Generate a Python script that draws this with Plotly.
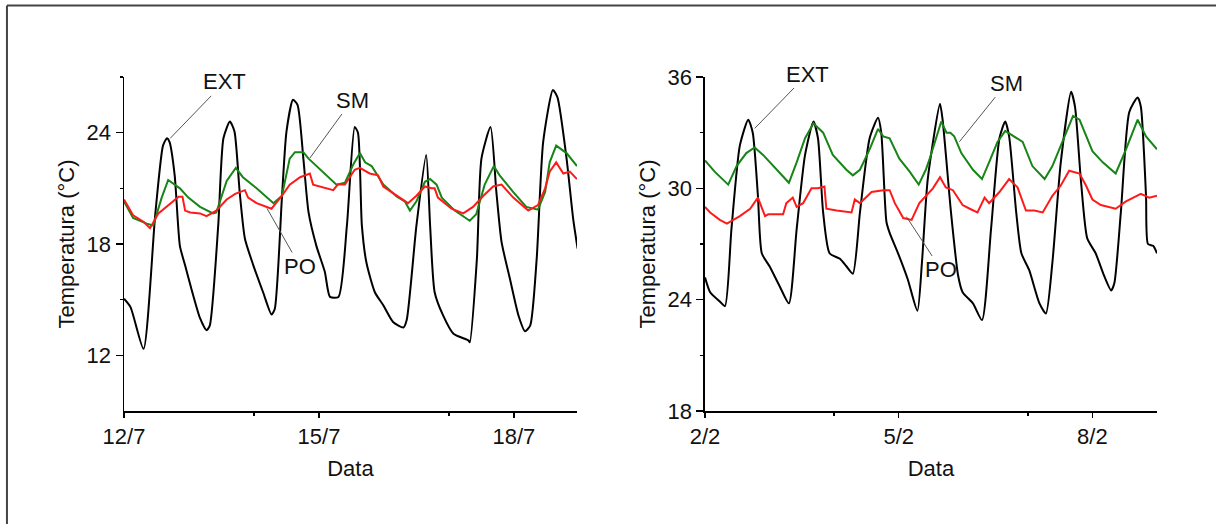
import plotly.graph_objects as go

# ---------------- data (day of month, temperature °C) ----------------
# Left panel: July (12/7 .. 19/7)
ext_jul_day = [12.00, 12.10, 12.30, 12.48, 12.60, 12.66, 12.70, 12.78, 12.86, 12.94, 13.02, 13.17, 13.27, 13.32,
               13.45, 13.53, 13.63, 13.70, 13.78, 13.86, 13.99, 14.14, 14.27, 14.32, 14.43, 14.50, 14.60, 14.67,
               14.76, 14.84, 14.96, 15.09, 15.17, 15.30, 15.43, 15.55, 15.60, 15.66, 15.73, 15.86, 15.99, 16.14,
               16.30, 16.35, 16.50, 16.65, 16.71, 16.78, 16.91, 17.07, 17.30, 17.32, 17.43, 17.50, 17.64, 17.73,
               17.81, 17.94, 18.07, 18.17, 18.25, 18.35, 18.45, 18.60, 18.67, 18.81, 18.91, 18.98]
ext_jul_temp = [15.05, 14.6, 12.35, 19.56, 23.3, 23.7, 23.5, 21.7, 17.9, 16.85, 15.8, 14.0, 13.35, 13.6,
                19.0, 23.7, 24.6, 24.06, 20.8, 18.3, 16.85, 15.4, 14.2, 14.5, 20.5, 24.06, 25.77, 25.5,
                22.6, 19.7, 17.9, 16.5, 15.15, 15.15, 19.0, 24.3, 24.0, 19.0, 17.0, 15.4, 14.7, 13.8,
                13.5, 13.9, 19.0, 22.8, 19.0, 15.4, 14.15, 13.16, 12.8, 12.7, 17.2, 22.6, 24.3, 20.8,
                18.1, 16.1, 14.15, 13.3, 13.6, 17.2, 23.5, 26.3, 25.9, 22.6, 19.4, 17.75]

sm_jul_day = [12.00, 12.14, 12.35, 12.45, 12.58, 12.68, 12.86, 12.99, 13.17, 13.37, 13.42, 13.58, 13.72, 13.83,
              14.04, 14.30, 14.43, 14.55, 14.63, 14.76, 14.84, 15.12, 15.27, 15.40, 15.53, 15.63, 15.71, 15.81,
              15.99, 16.20, 16.32, 16.40, 16.50, 16.63, 16.71, 16.81, 16.89, 17.09, 17.32, 17.42, 17.55, 17.69,
              17.78, 17.99, 18.19, 18.37, 18.48, 18.55, 18.65, 18.81, 18.97]
sm_jul_temp = [20.3, 19.4, 19.1, 19.0, 20.5, 21.45, 21.0, 20.5, 20.0, 19.65, 19.7, 21.4, 22.1, 21.6,
               21.0, 20.2, 20.6, 22.6, 22.95, 22.95, 22.6, 21.7, 21.2, 21.3, 22.3, 22.9, 22.4, 22.2,
               21.2, 20.55, 20.3, 19.8, 20.3, 21.35, 21.5, 21.2, 20.5, 19.8, 19.25, 19.6, 21.2, 22.2,
               21.7, 20.8, 20.0, 19.85, 20.8, 22.4, 23.3, 22.9, 22.2]

po_jul_day = [12.00, 12.14, 12.30, 12.40, 12.53, 12.71, 12.84, 12.90, 12.94, 13.02, 13.17, 13.27, 13.42, 13.58,
              13.71, 13.86, 13.91, 14.04, 14.27, 14.43, 14.55, 14.71, 14.86, 14.91, 15.02, 15.22, 15.29, 15.40,
              15.55, 15.63, 15.78, 15.91, 15.99, 16.20, 16.37, 16.50, 16.63, 16.73, 16.78, 16.83, 17.04, 17.22,
              17.37, 17.53, 17.68, 17.81, 17.99, 18.22, 18.37, 18.48, 18.55, 18.65, 18.76, 18.86, 18.97]
po_jul_temp = [20.4, 19.55, 19.2, 18.85, 19.65, 20.2, 20.55, 20.55, 19.8, 19.7, 19.65, 19.5, 19.8, 20.4,
               20.7, 20.9, 20.5, 20.2, 19.9, 20.6, 21.2, 21.6, 21.8, 21.2, 21.1, 20.9, 21.2, 21.2,
               22.0, 22.1, 21.8, 21.7, 21.1, 20.6, 20.2, 20.6, 21.1, 21.0, 21.0, 20.5, 19.9, 19.65,
               20.0, 20.6, 21.1, 21.2, 20.5, 19.8, 20.1, 21.0, 21.9, 22.4, 21.8, 21.9, 21.5]

# Right panel: February (2/2 .. 9/2)
ext_feb_day = [2.00, 2.08, 2.23, 2.31, 2.41, 2.54, 2.67, 2.74, 2.82, 2.88, 3.00, 3.16, 3.30, 3.42, 3.55, 3.68,
               3.75, 3.83, 3.93, 4.09, 4.19, 4.29, 4.40, 4.55, 4.68, 4.73, 4.81, 4.86, 4.99, 5.14, 5.29, 5.36,
               5.45, 5.64, 5.68, 5.81, 5.92, 5.99, 6.15, 6.29, 6.43, 6.56, 6.65, 6.71, 6.82, 6.90, 7.02, 7.18,
               7.28, 7.38, 7.51, 7.67, 7.73, 7.82, 7.92, 8.05, 8.18, 8.29, 8.34, 8.44, 8.57, 8.70, 8.75, 8.83,
               8.86, 8.94, 9.00]
ext_feb_temp = [25.2, 24.4, 23.9, 23.65, 27.8, 32.3, 33.7, 33.0, 29.6, 26.5, 25.8, 24.7, 23.8, 27.8, 31.8, 33.6,
                32.7, 28.7, 26.5, 26.2, 25.8, 25.4, 28.7, 32.7, 33.8, 33.0, 28.2, 27.6, 26.5, 25.1, 23.4, 26.0,
                30.5, 34.56, 33.7, 28.7, 25.3, 24.4, 23.8, 22.9, 27.8, 32.7, 33.6, 32.8, 28.7, 26.5, 25.6, 23.8,
                23.26, 26.0, 31.4, 35.2, 34.4, 30.5, 27.3, 26.5, 25.3, 24.5, 24.9, 28.7, 34.1, 34.9, 34.4, 29.6,
                27.0, 26.9, 26.5]

sm_feb_day = [2.00, 2.15, 2.36, 2.49, 2.64, 2.77, 2.90, 3.11, 3.30, 3.42, 3.55, 3.68, 3.83, 3.98, 4.19, 4.29,
              4.40, 4.55, 4.68, 4.76, 4.86, 5.01, 5.17, 5.31, 5.42, 5.48, 5.66, 5.74, 5.80, 5.86, 5.97, 6.15,
              6.29, 6.40, 6.53, 6.65, 6.79, 6.92, 7.07, 7.26, 7.38, 7.54, 7.70, 7.80, 8.00, 8.16, 8.36, 8.52,
              8.70, 8.83, 9.00]
sm_feb_temp = [31.5, 30.9, 30.2, 31.2, 31.9, 32.2, 31.8, 31.0, 30.3, 31.4, 32.7, 33.5, 33.0, 31.8, 31.0, 30.7,
               31.0, 32.1, 33.2, 32.8, 32.7, 31.6, 30.9, 30.2, 31.0, 31.6, 33.6, 33.0, 33.0, 32.8, 31.9, 31.0,
               30.5, 31.4, 32.5, 33.1, 32.8, 32.5, 31.2, 30.5, 31.2, 32.5, 33.9, 33.7, 32.0, 31.4, 30.8, 32.1,
               33.7, 32.8, 32.1]

po_feb_day = [2.00, 2.08, 2.23, 2.34, 2.54, 2.70, 2.82, 2.93, 2.98, 3.21, 3.26, 3.36, 3.42, 3.52, 3.65, 3.75,
              3.85, 3.88, 4.04, 4.27, 4.32, 4.40, 4.58, 4.76, 4.86, 4.94, 5.07, 5.20, 5.32, 5.45, 5.53, 5.64,
              5.73, 5.84, 5.99, 6.10, 6.22, 6.33, 6.40, 6.56, 6.71, 6.84, 6.97, 7.10, 7.23, 7.38, 7.51, 7.64,
              7.70, 7.80, 7.90, 8.00, 8.13, 8.36, 8.52, 8.75, 8.88, 9.00]
po_feb_temp = [29.0, 28.7, 28.3, 28.1, 28.5, 28.9, 29.5, 28.5, 28.6, 28.6, 29.2, 29.5, 29.0, 29.2, 30.0, 30.0,
               30.1, 28.9, 28.8, 28.7, 29.4, 29.2, 29.8, 29.9, 29.9, 29.2, 28.4, 28.3, 29.2, 29.7, 30.0, 30.6,
               30.05, 29.9, 29.1, 28.9, 28.7, 29.5, 29.2, 29.8, 30.5, 30.05, 28.8, 28.8, 28.7, 29.6, 30.15, 30.95,
               30.9, 30.8, 30.15, 29.4, 29.1, 28.9, 29.3, 29.7, 29.5, 29.6]

jul_tickvals = [12, 15, 18]
jul_ticktext = ["12/7", "15/7", "18/7"]
feb_tickvals = [2, 5, 8]
feb_ticktext = ["2/2", "5/2", "8/2"]
jul_ytick = [12, 18, 24]
feb_ytick = [18, 24, 30, 36]

# label annotations: (text, curve day, curve temp, label day, label temp)
jul_labels = [("EXT", 12.71, 23.69, 13.55, 26.74),
              ("SM", 14.86, 22.63, 15.51, 25.76),
              ("PO", 14.20, 19.92, 14.71, 16.79)]
feb_labels = [("EXT", 2.77, 33.23, 3.59, 36.16),
              ("SM", 5.94, 32.51, 6.67, 35.67),
              ("PO", 5.12, 28.47, 5.66, 25.60)]

# ---------------- figure ----------------
FONT = "Liberation Sans, Arial, sans-serif"
FS = 22
EXT_C, SM_C, PO_C = "#000000", "#168516", "#ff1a1a"
YTITLE = "Temperatura (°C)"

fig = go.Figure()
for xs, ys, col, ax, ay, shape in [
    (ext_jul_day, ext_jul_temp, EXT_C, "x", "y", "spline"),
    (sm_jul_day, sm_jul_temp, SM_C, "x", "y", "linear"),
    (po_jul_day, po_jul_temp, PO_C, "x", "y", "linear"),
    (ext_feb_day, ext_feb_temp, EXT_C, "x2", "y2", "spline"),
    (sm_feb_day, sm_feb_temp, SM_C, "x2", "y2", "linear"),
    (po_feb_day, po_feb_temp, PO_C, "x2", "y2", "linear"),
]:
    fig.add_trace(go.Scatter(x=xs, y=ys, mode="lines", xaxis=ax, yaxis=ay,
                             line=dict(color=col, width=2, shape=shape, smoothing=0.6),
                             showlegend=False, hoverinfo="skip"))

common_axis = dict(showline=True, linecolor="black", linewidth=1.5, showgrid=False, zeroline=False,
                   ticks="outside", tickcolor="black", tickwidth=1.5,
                   tickfont=dict(family=FONT, size=FS, color="#111"), automargin=False)

fig.update_layout(
    width=1216, height=524,
    margin=dict(l=124, r=59, t=77, b=113),
    paper_bgcolor="white", plot_bgcolor="white",
    font=dict(family=FONT, size=FS, color="#111"),
    xaxis=dict(domain=[0, 0.4385], range=[12, 18.97], anchor="y",
               tickmode="array", tickvals=jul_tickvals, ticktext=jul_ticktext, ticklen=5,
               minor=dict(tickmode="array", tickvals=[14, 17], ticks="outside", ticklen=3,
                          tickwidth=1.5, tickcolor="black"),
               title=dict(text="Data", standoff=12, font=dict(family=FONT, size=FS)), **common_axis),
    xaxis2=dict(domain=[0.5624, 1], range=[2, 9.0], anchor="y2",
                tickmode="array", tickvals=feb_tickvals, ticktext=feb_ticktext, ticklen=5,
                minor=dict(tickmode="array", tickvals=[4, 7], ticks="outside", ticklen=3,
                           tickwidth=1.5, tickcolor="black"),
                title=dict(text="Data", standoff=12, font=dict(family=FONT, size=FS)), **common_axis),
    yaxis=dict(domain=[0, 1], range=[9, 27], anchor="x",
               tickmode="array", tickvals=jul_ytick, ticklen=7,
               minor=dict(tickmode="array", tickvals=[15, 21, 27], ticks="outside", ticklen=3,
                          tickwidth=1.5, tickcolor="black"),
               title=dict(text=YTITLE, standoff=6, font=dict(family=FONT, size=FS)), **common_axis),
    yaxis2=dict(domain=[0, 1], range=[18, 36], anchor="x2",
                tickmode="array", tickvals=feb_ytick, ticklen=7,
                minor=dict(tickmode="array", tickvals=[21, 27, 33], ticks="outside", ticklen=3,
                           tickwidth=1.5, tickcolor="black"),
                title=dict(text=YTITLE, standoff=6, font=dict(family=FONT, size=FS)), **common_axis),
)

annots = []
for labels, xr, yr in [(jul_labels, "x", "y"), (feb_labels, "x2", "y2")]:
    for text, cx, cy, lx, ly in labels:
        annots.append(dict(x=cx, y=cy, xref=xr, yref=yr, ax=lx, ay=ly, axref=xr, ayref=yr,
                           text=text, showarrow=True, arrowhead=0, arrowwidth=1, arrowcolor="#555",
                           font=dict(family=FONT, size=FS, color="#111")))
fig.update_layout(annotations=annots)

# outer frame (top and left edges)
fig.add_shape(type="line", xref="paper", yref="paper", x0=-0.1133, x1=1.06, y0=1.214, y1=1.214,
              line=dict(color="#444", width=2))
fig.add_shape(type="line", xref="paper", yref="paper", x0=-0.1133, x1=-0.1133, y0=1.214, y1=-0.34,
              line=dict(color="#444", width=2))

fig.write_html("out.html",
               config={"displayModeBar": False, "staticPlot": True},
               post_script="document.body.style.margin='0';document.body.style.overflow='hidden';")
